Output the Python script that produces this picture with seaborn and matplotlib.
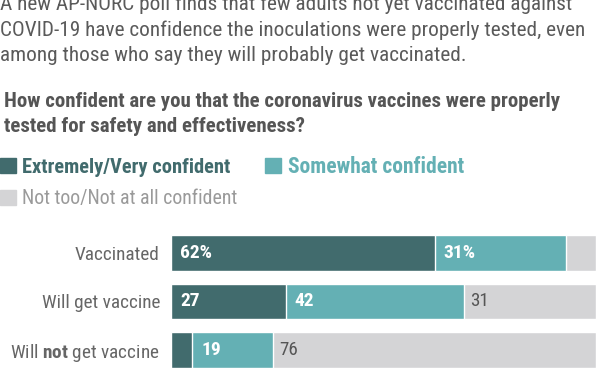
import matplotlib
matplotlib.use("Agg")
import matplotlib.pyplot as plt
from matplotlib import font_manager as fm
from matplotlib.patches import Rectangle
import seaborn as sns
import pandas as pd

# data
groups = ["Vaccinated", "Will get vaccine", "Will not get vaccine"]
very_conf = [62, 27, 5]
somewhat_conf = [31, 42, 19]
not_conf = [7, 31, 76]

very_labels = ["62%", "27", ""]
somewhat_labels = ["31%", "42", "19"]
not_labels = ["", "31", "76"]

title_lines = [
    "A new AP-NORC poll finds that few adults not yet vaccinated against",
    "COVID-19 have confidence the inoculations were properly tested, even",
    "among those who say they will probably get vaccinated.",
]
question_lines = [
    "How confident are you that the coronavirus vaccines were properly",
    "tested for safety and effectiveness?",
]
legend_names = ["Extremely/Very confident", "Somewhat confident", "Not too/Not at all confident"]

DARK = "#416b6d"
MID = "#64b0b4"
GREY = "#d4d4d6"
TEXT = "#5a5a5a"

# the original uses a narrow sans, take the first narrow face that is installed
installed = {f.name for f in fm.fontManager.ttflist}
FAMILY = "Liberation Sans"
for name in ["Liberation Sans Narrow", "Arial Narrow", "Roboto Condensed",
             "Open Sans Condensed", "Noto Sans Condensed"]:
    if name in installed:
        FAMILY = name
        break

sns.set_theme(style="white")
plt.rcParams["font.family"] = [FAMILY, "DejaVu Sans"]
plt.rcParams["mathtext.fontset"] = "custom"
plt.rcParams["mathtext.rm"] = FAMILY
plt.rcParams["mathtext.bf"] = FAMILY + ":bold"

df = pd.DataFrame({"group": groups, "very": very_conf, "somewhat": somewhat_conf, "not": not_conf})
df["cum_mid"] = df["very"] + df["somewhat"]
df["cum_all"] = df["cum_mid"] + df["not"]

W, H = 612, 374
fig = plt.figure(figsize=(W / 100, H / 100), dpi=100)
ax = fig.add_axes([171 / W, 1 - 368 / H, 425 / W, 133 / H])

# stacked bars drawn as overlapping cumulative bars
sns.barplot(data=df, x="cum_all", y="group", color=GREY, saturation=1, width=0.73, orient="h", ax=ax)
sns.barplot(data=df, x="cum_mid", y="group", color=MID, saturation=1, width=0.73, orient="h", ax=ax)
sns.barplot(data=df, x="very", y="group", color=DARK, saturation=1, width=0.73, orient="h", ax=ax)

ax.set_xlim(0, 100)
ax.set_ylim(2.365, -0.365)
ax.set_xlabel("")
ax.set_ylabel("")
ax.set_xticks([])
ax.set_yticks(range(len(groups)))
ax.set_yticklabels(["Vaccinated", "Will get vaccine", "Will $\\mathbf{not}$ get vaccine"])
ax.tick_params(axis="y", length=0, pad=8, labelsize=13.9, labelcolor="#666666")
sns.despine(ax=ax, left=True, bottom=True)

# value labels
for i in range(len(groups)):
    starts = [0, df["very"][i], df["cum_mid"][i]]
    texts = [very_labels[i], somewhat_labels[i], not_labels[i]]
    for k, (x0, t) in enumerate(zip(starts, texts)):
        if not t:
            continue
        if k < 2:
            ax.annotate(t, xy=(x0, i), xytext=(6.5, 0), textcoords="offset points",
                        va="center", ha="left", color="white", fontsize=14, fontweight="bold")
        else:
            ax.annotate(t, xy=(x0, i), xytext=(4.5, 0), textcoords="offset points",
                        va="center", ha="left", color="#555555", fontsize=13.8)


def ftext(x, y, s, **kw):
    return fig.text(x / W, 1 - y / H, s, va="baseline", ha="left", **kw)


for j, line in enumerate(title_lines):
    ftext(0, 10 + 25.5 * j, line, fontsize=15.3, color=TEXT)

for j, line in enumerate(question_lines):
    ftext(4, 107 + 25.5 * j, line, fontsize=15, fontweight="bold", color="#555555")

# legend
for (x0, y0, c) in [(0, 158, DARK), (265, 158, MID), (0, 190, GREY)]:
    fig.patches.append(Rectangle((x0 / W, 1 - (y0 + 15) / H), 16 / W, 15 / H,
                                 transform=fig.transFigure, color=c))
ftext(22, 173, legend_names[0], fontsize=14.8, fontweight="bold", color=DARK)
ftext(288, 173, legend_names[1], fontsize=15.5, fontweight="bold", color=MID)
ftext(22, 204, legend_names[2], fontsize=14.3, color="#9a9a9a")

fig.savefig("out.png", dpi=100, facecolor="white")
